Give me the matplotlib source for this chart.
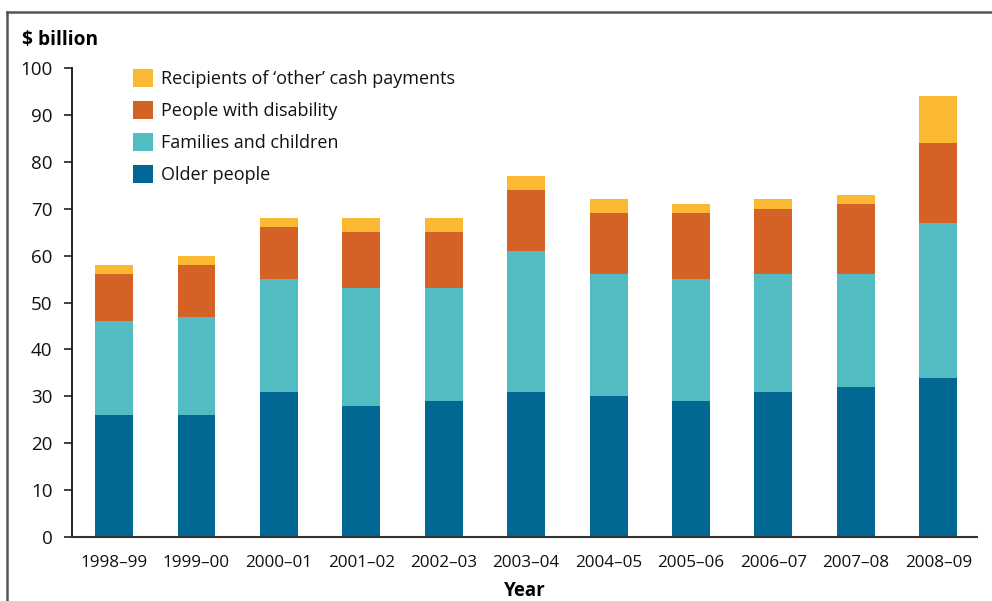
import numpy as np
import matplotlib.pyplot as plt
from matplotlib.lines import Line2D

plt.rcParams['font.family'] = ['Open Sans', 'DejaVu Sans']

# Cash payment expenditure by recipient group ($ billion)
years = ["1998–99", "1999–00", "2000–01", "2001–02", "2002–03", "2003–04",
         "2004–05", "2005–06", "2006–07", "2007–08", "2008–09"]
older = [26, 26, 31, 28, 29, 31, 30, 29, 31, 32, 34]
families = [20, 21, 24, 25, 24, 30, 26, 26, 25, 24, 33]
disability = [10, 11, 11, 12, 12, 13, 13, 14, 14, 15, 17]
other = [2, 2, 2, 3, 3, 3, 3, 2, 2, 2, 10]

series = [
    ("Older people", older, "#006892"),
    ("Families and children", families, "#53bcc2"),
    ("People with disability", disability, "#d46125"),
    ("Recipients of \u2018other\u2019 cash payments", other, "#fbb833"),
]

fig = plt.figure(figsize=(9.92, 6.01), dpi=100)
ax = fig.add_axes([72 / 992, 64 / 601, 905 / 992, 469 / 601])

x = np.arange(len(years))
bottom = np.zeros(len(years))
handles = []
for name, vals, col in series:
    b = ax.bar(x, vals, width=0.46, bottom=bottom, color=col, label=name, zorder=2)
    bottom += np.array(vals)
    handles.append(b)

ax.set_xlim(-0.51, 10.47)
ax.set_ylim(0, 100)
ax.set_yticks(range(0, 101, 10))
ax.set_xticks(x)
ax.set_xticklabels(years)

for s in ["top", "right"]:
    ax.spines[s].set_visible(False)
ax.spines["left"].set_color("#111111")
ax.spines["left"].set_linewidth(1.3)
ax.spines["bottom"].set_color("#333333")
ax.spines["bottom"].set_linewidth(1.5)
ax.tick_params(axis="y", length=6, width=1.3, color="#333333", pad=8,
               labelsize=13.5, labelcolor="#111111")
ax.tick_params(axis="x", length=0, pad=13, labelsize=12.3, labelcolor="#111111")

ax.set_xlabel("Year", fontsize=13.5, fontweight="bold", labelpad=7)
fig.text(22 / 992, 1 - 40 / 601, "$ billion", fontsize=13.8, fontweight="bold",
         va="center", ha="left")

leg = ax.legend(handles[::-1], [s[0] for s in series][::-1],
                loc="upper left", bbox_to_anchor=(0.059, 1.013), frameon=False,
                fontsize=13, handlelength=1.15, handleheight=1.15,
                handletextpad=0.4, labelspacing=0.72, borderaxespad=0)
for t in leg.get_texts():
    t.set_color("#111111")

# outer frame (top and left edges)
fig.add_artist(Line2D([7 / 992, 7 / 992], [0, 1 - 12 / 601], color="#555555", lw=1.8))
fig.add_artist(Line2D([7 / 992, 1], [1 - 12 / 601, 1 - 12 / 601], color="#555555", lw=1.8))

fig.savefig("out.png", dpi=100)
